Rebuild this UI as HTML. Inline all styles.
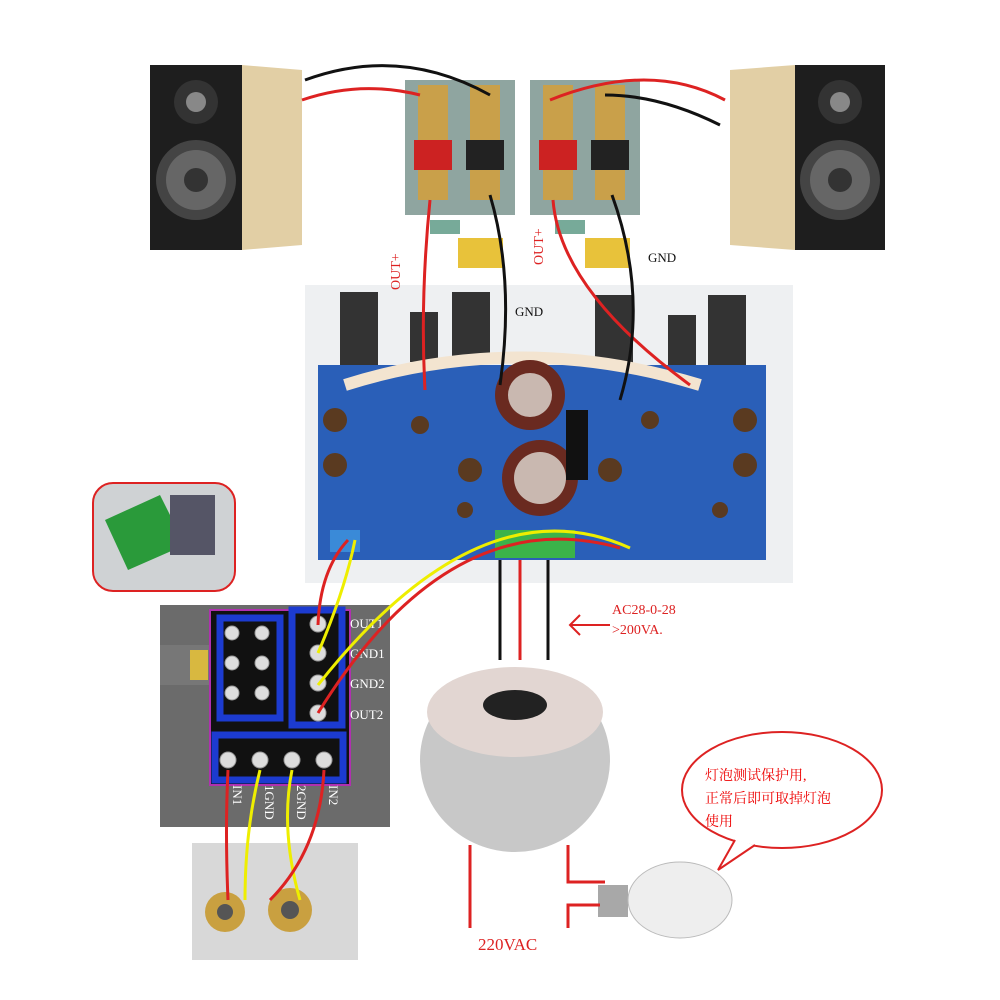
<!DOCTYPE html>
<html><head><meta charset="utf-8"><style>
html,body{margin:0;padding:0;background:#fff}
svg{display:block}
text{font-family:"Liberation Serif","Noto Serif CJK SC",serif}
</style></head><body>
<svg width="1000" height="1000" viewBox="0 0 1000 1000" xmlns="http://www.w3.org/2000/svg">
<rect width="1000" height="1000" fill="#fff"/>
<rect x="150" y="65" width="92" height="185" fill="#1e1e1e"/>
<polygon points="242,65 302,70 302,245 242,250" fill="#e2cfa5"/>
<circle cx="196" cy="102" r="22" fill="#333"/><circle cx="196" cy="102" r="10" fill="#888"/>
<circle cx="196" cy="180" r="40" fill="#444"/><circle cx="196" cy="180" r="30" fill="#666"/><circle cx="196" cy="180" r="12" fill="#333"/>
<polygon points="730,70 795,65 795,250 730,245" fill="#e2cfa5"/>
<rect x="795" y="65" width="90" height="185" fill="#1e1e1e"/>
<circle cx="840" cy="102" r="22" fill="#333"/><circle cx="840" cy="102" r="10" fill="#888"/>
<circle cx="840" cy="180" r="40" fill="#444"/><circle cx="840" cy="180" r="30" fill="#666"/><circle cx="840" cy="180" r="12" fill="#333"/>
<rect x="405" y="80" width="110" height="135" fill="#8fa5a0"/>
<rect x="530" y="80" width="110" height="135" fill="#8fa5a0"/>
<rect x="418" y="85" width="30" height="115" fill="#c9a04a"/><rect x="414" y="140" width="38" height="30" fill="#c22"/>
<rect x="470" y="85" width="30" height="115" fill="#c9a04a"/><rect x="466" y="140" width="38" height="30" fill="#222"/>
<rect x="543" y="85" width="30" height="115" fill="#c9a04a"/><rect x="539" y="140" width="38" height="30" fill="#c22"/>
<rect x="595" y="85" width="30" height="115" fill="#c9a04a"/><rect x="591" y="140" width="38" height="30" fill="#222"/>
<rect x="430" y="220" width="30" height="14" fill="#7a9" /><rect x="458" y="238" width="45" height="30" fill="#e8c23a"/>
<rect x="555" y="220" width="30" height="14" fill="#7a9" /><rect x="585" y="238" width="45" height="30" fill="#e8c23a"/>
<rect x="305" y="285" width="488" height="298" fill="#eef0f2"/>
<rect x="340" y="292" width="38" height="75" fill="#333"/><rect x="410" y="312" width="28" height="50" fill="#333"/><rect x="452" y="292" width="38" height="70" fill="#333"/>
<rect x="595" y="295" width="38" height="70" fill="#333"/><rect x="668" y="315" width="28" height="50" fill="#333"/><rect x="708" y="295" width="38" height="75" fill="#333"/>
<rect x="318" y="365" width="448" height="195" fill="#2a5fb8"/>
<path d="M345 385 Q520 330 700 385" stroke="#f3e4d0" stroke-width="12" fill="none"/>
<circle cx="530" cy="395" r="35" fill="#6a2a20"/><circle cx="530" cy="395" r="22" fill="#c9b8b0"/>
<circle cx="540" cy="478" r="38" fill="#6a2a20"/><circle cx="540" cy="478" r="26" fill="#c9b8b0"/>
<rect x="566" y="410" width="22" height="70" fill="#111"/>
<g fill="#5a3a20"><circle cx="335" cy="420" r="12"/><circle cx="335" cy="465" r="12"/><circle cx="470" cy="470" r="12"/><circle cx="610" cy="470" r="12"/><circle cx="745" cy="420" r="12"/><circle cx="745" cy="465" r="12"/><circle cx="420" cy="425" r="9"/><circle cx="650" cy="420" r="9"/><circle cx="465" cy="510" r="8"/><circle cx="720" cy="510" r="8"/></g>
<rect x="495" y="530" width="80" height="28" fill="#3bb34a"/>
<rect x="330" y="530" width="30" height="22" fill="#3a8ad8"/>
<rect x="93" y="483" width="142" height="108" rx="20" fill="#cfd2d4" stroke="#d22" stroke-width="2"/>
<polygon points="105,520 160,495 185,545 128,570" fill="#2a9a3a"/>
<rect x="170" y="495" width="45" height="60" fill="#556"/>
<rect x="160" y="605" width="230" height="222" fill="#6b6b6b"/>
<rect x="210" y="610" width="140" height="175" fill="#111"/>
<rect x="160" y="645" width="50" height="40" fill="#777"/><rect x="190" y="650" width="18" height="30" fill="#d8b840"/>
<rect x="210" y="610" width="140" height="175" fill="none" stroke="#b030b0" stroke-width="2"/>
<g fill="none" stroke="#1c3bd0" stroke-width="7"><rect x="220" y="618" width="60" height="100"/><rect x="292" y="610" width="50" height="115"/><rect x="215" y="735" width="128" height="45"/></g>
<g fill="#ddd" stroke="#999"><circle cx="232" cy="633" r="7"/><circle cx="262" cy="633" r="7"/><circle cx="232" cy="663" r="7"/><circle cx="262" cy="663" r="7"/><circle cx="232" cy="693" r="7"/><circle cx="262" cy="693" r="7"/><circle cx="318" cy="624" r="8"/><circle cx="318" cy="653" r="8"/><circle cx="318" cy="683" r="8"/><circle cx="318" cy="713" r="8"/><circle cx="228" cy="760" r="8"/><circle cx="260" cy="760" r="8"/><circle cx="292" cy="760" r="8"/><circle cx="324" cy="760" r="8"/></g>
<g fill="#fff" font-size="13" font-family="Liberation Sans,sans-serif"><text x="350" y="628">OUT1</text><text x="350" y="658">GND1</text><text x="350" y="688">GND2</text><text x="350" y="719">OUT2</text>
<text transform="translate(233,785) rotate(90)">IN1</text><text transform="translate(265,785) rotate(90)">1GND</text><text transform="translate(297,785) rotate(90)">2GND</text><text transform="translate(329,785) rotate(90)">IN2</text></g>
<rect x="192" y="843" width="166" height="117" fill="#d8d8d8"/>
<circle cx="225" cy="912" r="20" fill="#c9a040"/><circle cx="225" cy="912" r="8" fill="#555"/>
<circle cx="290" cy="910" r="22" fill="#c9a040"/><circle cx="290" cy="910" r="9" fill="#555"/>
<ellipse cx="515" cy="760" rx="95" ry="92" fill="#c8c8c8"/>
<ellipse cx="515" cy="712" rx="88" ry="45" fill="#e2d6d2"/>
<ellipse cx="515" cy="705" rx="32" ry="15" fill="#222"/>
<rect x="598" y="885" width="30" height="32" fill="#a8a8a8"/>
<ellipse cx="680" cy="900" rx="52" ry="38" fill="#eee" stroke="#bbb"/>
<ellipse cx="782" cy="790" rx="100" ry="58" fill="#fff" stroke="#d22" stroke-width="2"/>
<path d="M735 840 L718 870 L755 845" fill="#fff" stroke="#d22" stroke-width="2"/>
<g fill="#e00" font-size="14" font-family="Liberation Sans,Noto Sans CJK SC,sans-serif"><text x="705" y="780">灯泡测试保护用,</text><text x="705" y="803">正常后即可取掉灯泡</text><text x="705" y="826">使用</text></g>
<g fill="none" stroke-width="3">
<path d="M302 100 Q360 80 420 95" stroke="#d22"/><path d="M305 80 Q400 45 490 95" stroke="#111"/>
<path d="M725 100 Q650 60 550 100" stroke="#d22"/><path d="M720 125 Q660 95 605 95" stroke="#111"/>
<path d="M430 200 Q420 300 425 390" stroke="#d22"/><path d="M490 195 Q515 280 500 385" stroke="#111"/>
<path d="M553 200 Q560 290 690 385" stroke="#d22"/><path d="M612 195 Q650 300 620 400" stroke="#111"/>
<path d="M500 560 V660" stroke="#111"/><path d="M520 560 V660" stroke="#d22"/><path d="M548 560 V660" stroke="#111"/>
<path d="M348 540 Q320 570 318 625" stroke="#d22"/><path d="M355 540 Q345 590 318 653" stroke="#ee0"/>
<path d="M630 548 Q480 480 318 685" stroke="#ee0"/><path d="M620 548 Q450 500 318 713" stroke="#d22"/>
<path d="M228 770 Q225 830 228 900" stroke="#d22"/><path d="M260 770 Q245 830 245 900" stroke="#ee0"/>
<path d="M292 770 Q280 830 300 900" stroke="#ee0"/><path d="M324 770 Q320 850 270 900" stroke="#d22"/>
<path d="M470 845 V928" stroke="#d22"/><path d="M568 845 V882 H605" stroke="#d22"/><path d="M568 928 V905 H600" stroke="#d22"/>
<path d="M570 625 H610 M580 615 L570 625 L580 635" stroke="#d22" stroke-width="2"/>
</g>
<g fill="#111" font-size="13"><text x="515" y="316">GND</text><text x="648" y="262">GND</text></g>
<g fill="#d22" font-size="14"><text transform="translate(400,290) rotate(-90)">OUT+</text><text transform="translate(543,265) rotate(-90)">OUT+</text>
<text x="612" y="614">AC28-0-28</text><text x="612" y="634">&gt;200VA.</text><text x="478" y="950" font-size="17">220VAC</text></g>
</svg>
</body></html>
